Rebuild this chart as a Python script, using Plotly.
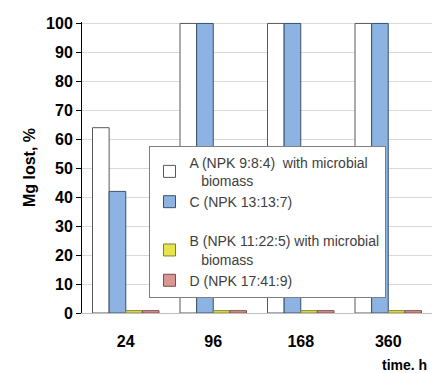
import plotly.graph_objects as go

categories = ["24", "96", "168", "360"]
series_names = [
    "A (NPK 9:8:4)  with microbial<br>   biomass",
    "C (NPK 13:13:7)",
    "B (NPK 11:22:5) with microbial<br>   biomass",
    "D (NPK 17:41:9)",
]
values_A = [64, 100, 100, 100]
values_C = [42, 100, 100, 100]
values_B = [0.8, 0.8, 0.8, 0.8]
values_D = [0.8, 0.8, 0.8, 0.8]
y_ticks = [0, 10, 20, 30, 40, 50, 60, 70, 80, 90, 100]

fills = ["#ffffff", "#8db3e2", "#e6e64c", "#d99694"]
edges = ["#595959", "#3a4f6a", "#7f7f30", "#7f4a4a"]
groups = ["g1", "g1", "g2", "g2"]

fig = go.Figure()
for name, vals, fc, ec, g in zip(series_names, [values_A, values_C, values_B, values_D], fills, edges, groups):
    fig.add_trace(go.Bar(
        x=categories, y=vals, name=name,
        marker=dict(color=fc, line=dict(color=ec, width=1)),
        legendgroup=g, cliponaxis=False,
    ))

fig.update_layout(
    width=437, height=373,
    margin=dict(l=82, r=5, t=22, b=60),
    paper_bgcolor="white", plot_bgcolor="white",
    barmode="group", bargap=0.24, bargroupgap=0,
    font=dict(family="Arial, Liberation Sans, sans-serif", color="#000000"),
    showlegend=True,
    legend=dict(
        x=0.19, y=0.575, xanchor="left", yanchor="top",
        bgcolor="white", bordercolor="#7f7f7f", borderwidth=1,
        font=dict(size=14, color="#404040"),
        traceorder="grouped", tracegroupgap=18,
        itemwidth=30,
    ),
    xaxis=dict(
        showline=True, linecolor="#bfbfbf", linewidth=1,
        ticks="", ticklabelstandoff=14,
        tickfont=dict(size=16, color="#000000", weight="bold"),
        showgrid=False,
    ),
    yaxis=dict(
        range=[0, 100.5], tickvals=y_ticks,
        showline=True, linecolor="#000000", linewidth=1,
        ticks="outside", ticklen=5, tickcolor="#000000",
        tickfont=dict(size=16, color="#000000", weight="bold"),
        showgrid=True, gridcolor="#d9d9d9", gridwidth=1,
        title=dict(text="Mg lost, %", font=dict(size=16, color="#000000", weight="bold"), standoff=6),
        zeroline=False,
    ),
    annotations=[dict(
        text="<b>time. h</b>", x=0.99, y=-0.145, xref="paper", yref="paper",
        xanchor="right", yanchor="top", showarrow=False,
        font=dict(size=14, color="#000000"),
    )],
)

fig.write_html("out.html")
